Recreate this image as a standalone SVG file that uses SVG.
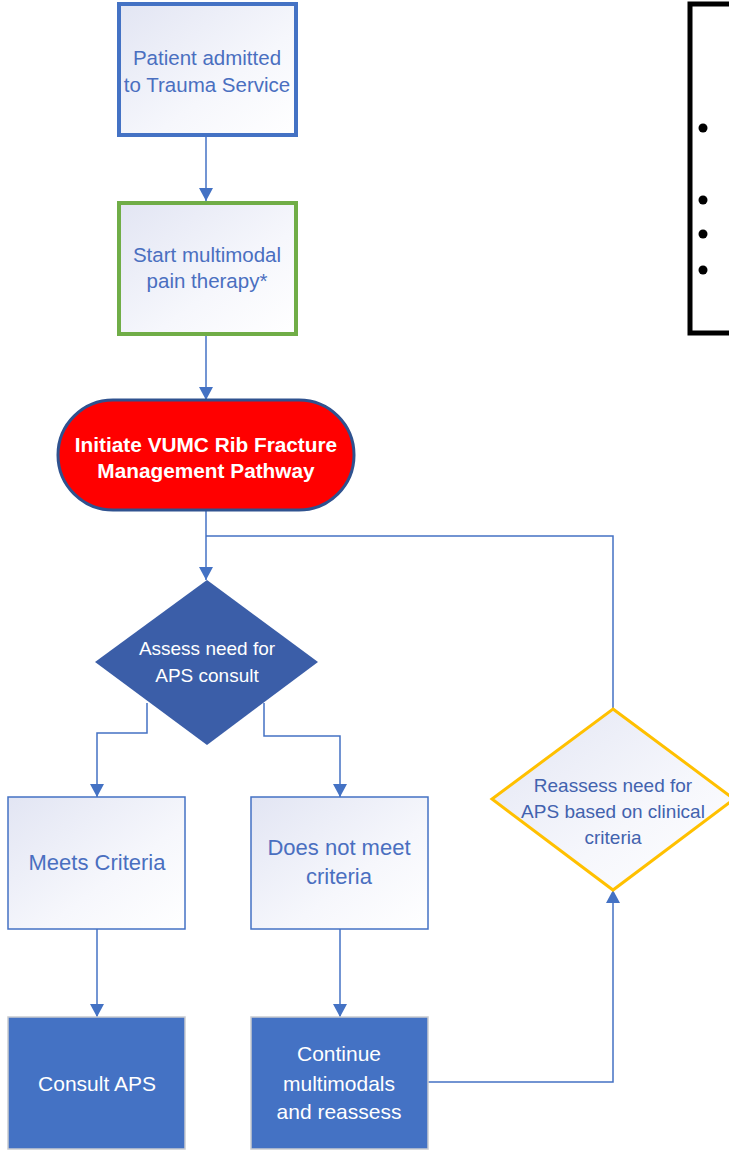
<svg xmlns="http://www.w3.org/2000/svg" width="729" height="1152" viewBox="0 0 729 1152">
<defs>
<linearGradient id="lg" x1="0" y1="0" x2="1" y2="1">
<stop offset="0" stop-color="#E2E5F3"/>
<stop offset="0.6" stop-color="#F6F7FC"/>
<stop offset="1" stop-color="#FFFFFF"/>
</linearGradient>
<marker id="ah" viewBox="0 0 13 14" refX="13" refY="7" markerWidth="13" markerHeight="14" markerUnits="userSpaceOnUse" orient="auto">
<path d="M0,0 L13,7 L0,14 Z" fill="#4472C4"/>
</marker>
<style>
.t{font-family:"Liberation Sans",Arial,sans-serif;text-anchor:middle}
.blue{fill:#4A6FC0}
.wh{fill:#FFFFFF}
.conn{fill:none;stroke:#4472C4;stroke-width:1.5}
.lightbox{fill:url(#lg);stroke:#4472C4;stroke-width:1.5}
.darkbox{fill:#4472C4;stroke:#C9CBD0;stroke-width:1.5}
</style>
</defs>
<rect width="729" height="1152" fill="#FFFFFF"/>

<g id="connectors">
<path class="conn" d="M206,137 V201" marker-end="url(#ah)"/>
<path class="conn" d="M206,336 V400" marker-end="url(#ah)"/>
<path class="conn" d="M206,511 V580" marker-end="url(#ah)"/>
<path class="conn" d="M613,709 V536 H206"/>
<path class="conn" d="M147,703 V733 H97 V797" marker-end="url(#ah)"/>
<path class="conn" d="M264,703 V736 H340 V797" marker-end="url(#ah)"/>
<path class="conn" d="M97,929 V1017" marker-end="url(#ah)"/>
<path class="conn" d="M340,929 V1017" marker-end="url(#ah)"/>
<path class="conn" d="M428,1082 H613 V890" marker-end="url(#ah)"/>
</g>

<g id="n1">
<rect x="119" y="4" width="177" height="131" fill="url(#lg)" stroke="#4472C4" stroke-width="4"/>
<text class="t blue" x="207" y="65" font-size="20.5">Patient admitted</text>
<text class="t blue" x="207" y="92" font-size="20.5">to Trauma Service</text>
</g>

<g id="n2">
<rect x="119" y="203" width="177" height="131" fill="url(#lg)" stroke="#70AD47" stroke-width="4"/>
<text class="t blue" x="207" y="262" font-size="20.5">Start multimodal</text>
<text class="t blue" x="207" y="288" font-size="20.5">pain therapy*</text>
</g>

<g id="n3">
<rect x="58" y="400" width="296" height="110" rx="55" ry="55" fill="#FF0000" stroke="#2F528F" stroke-width="3"/>
<text class="t wh" x="206" y="452" font-size="20.8" font-weight="bold">Initiate VUMC Rib Fracture</text>
<text class="t wh" x="206" y="478" font-size="20.8" font-weight="bold">Management Pathway</text>
</g>

<g id="n4">
<polygon points="207,580 318,662 207,745 95,662" fill="#3B5EA8"/>
<text class="t wh" x="207" y="655" font-size="19">Assess need for</text>
<text class="t wh" x="207" y="682" font-size="19">APS consult</text>
</g>

<g id="n5">
<rect x="8" y="797" width="177" height="132" class="lightbox"/>
<text class="t blue" x="97" y="870" font-size="22">Meets Criteria</text>
</g>

<g id="n6">
<rect x="251" y="797" width="177" height="132" class="lightbox"/>
<text class="t blue" x="339" y="855" font-size="22">Does not meet</text>
<text class="t blue" x="339" y="884" font-size="22">criteria</text>
</g>

<g id="n7">
<rect x="8" y="1017" width="177" height="132" class="darkbox"/>
<text class="t wh" x="97" y="1091" font-size="21">Consult APS</text>
</g>

<g id="n8">
<rect x="251" y="1017" width="177" height="132" class="darkbox"/>
<text class="t wh" x="339" y="1061" font-size="21">Continue</text>
<text class="t wh" x="339" y="1091" font-size="21">multimodals</text>
<text class="t wh" x="339" y="1119" font-size="21">and reassess</text>
</g>

<g id="n9">
<polygon points="613,709 734,799 613,890 492,799" fill="url(#lg)" stroke="#FFC000" stroke-width="3"/>
<text class="t" fill="#4262AE" x="613" y="792" font-size="19">Reassess need for</text>
<text class="t" fill="#4262AE" x="613" y="818" font-size="19">APS based on clinical</text>
<text class="t" fill="#4262AE" x="613" y="844" font-size="19">criteria</text>
</g>

<g id="n10">
<rect x="690" y="4" width="50" height="329" fill="#FFFFFF" stroke="#000000" stroke-width="5"/>
<circle cx="703" cy="128" r="4.5" fill="#000000"/>
<circle cx="703" cy="200" r="4.5" fill="#000000"/>
<circle cx="703" cy="234" r="4.5" fill="#000000"/>
<circle cx="703" cy="270" r="4.5" fill="#000000"/>
</g>
</svg>
